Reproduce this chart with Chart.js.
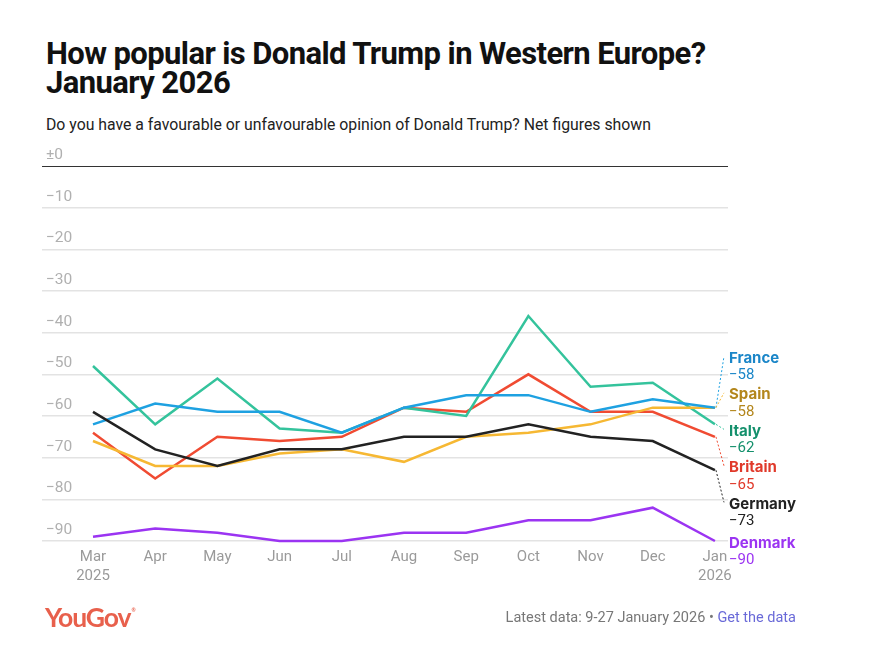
<!DOCTYPE html>
<html>
<head>
<meta charset="utf-8">
<script src="https://cdn.jsdelivr.net/npm/chart.js@4.4.1/dist/chart.umd.min.js"></script>
<style>
    body { margin: 0; background: #ffffff; }
    #wrap { position: relative; width: 896px; height: 653px; overflow: hidden; font-family: Roboto, sans-serif; }
    #title { position: absolute; left: 46px; top: 39px; font-weight: 700; font-size: 31px; line-height: 29px; color: #111111; letter-spacing: -0.6px; }
    #subtitle { position: absolute; left: 46px; top: 115px; font-size: 15.8px; color: #222222; }
    #chart { position: absolute; left: 0; top: 0; }
    #logo { position: absolute; left: 45px; top: 601px; font-family: Lato, sans-serif; font-weight: 700; font-size: 26.5px; color: #e8604c; letter-spacing: -1.1px; }
    #logo sup { font-size: 5px; vertical-align: 15px; margin-left: 1px; }
    #source { position: absolute; right: 100px; top: 609px; font-size: 14.5px; color: #777777; }
    #source span { color: #6a6ad8; }
</style>
</head>
<body>
<div id="wrap">
    <div id="title">How popular is Donald Trump in Western Europe?<br>January 2026</div>
    <div id="subtitle">Do you have a favourable or unfavourable opinion of Donald Trump? Net figures shown</div>
    <canvas id="chart" width="896" height="653"></canvas>
    <div id="logo">YouGov<sup>&reg;</sup></div>
    <div id="source">Latest data: 9-27 January 2026 &bull; <span>Get the data</span></div>
</div>
<script>
var months = [['Mar', '2025'], 'Apr', 'May', 'Jun', 'Jul', 'Aug', 'Sep', 'Oct', 'Nov', 'Dec', ['Jan', '2026']];
var yTicks = [0, -10, -20, -30, -40, -50, -60, -70, -80, -90];

var france  = [-62, -57, -59, -59, -64, -58, -55, -55, -59, -56, -58];
var spain   = [-66, -72, -72, -69, -68, -71, -65, -64, -62, -58, -58];
var italy   = [-48, -62, -51, -63, -64, -58, -60, -36, -53, -52, -62];
var britain = [-64, -75, -65, -66, -65, -58, -59, -50, -59, -59, -65];
var germany = [-59, -68, -72, -68, -68, -65, -65, -62, -65, -66, -73];
var denmark = [-89, -87, -88, -90, -90, -88, -88, -85, -85, -82, -90];

var countries = ['France', 'Spain', 'Italy', 'Britain', 'Germany', 'Denmark'];
var seriesValues = [france, spain, italy, britain, germany, denmark];
var lineColors  = ['#1ea1e1', '#f6b833', '#34c39c', '#f04b32', '#222222', '#9b34f2'];
var labelColors = ['#1b86c8', '#b3861c', '#14906c', '#e0392a', '#222222', '#9b34f2'];

function minus(v) {
    return v === 0 ? '\u00b10' : (v < 0 ? '\u2212' + Math.abs(v) : String(v));
}

function toPoints(values) {
    return values.map(function(v, i) { return { x: i, y: v }; });
}

// end labels with leader lines, spread so they do not overlap
var endLabels = {
    id: 'endLabels',
    afterDatasetsDraw: function(chart) {
        var ctx = chart.ctx;
        var xs = chart.scales.x, ys = chart.scales.y;
        var last = months.length - 1;
        var gap = 36.5;
        var items = seriesValues.map(function(vals, i) {
            return { i: i, v: vals[last], target: ys.getPixelForValue(vals[last]) };
        });
        items.sort(function(a, b) { return a.target - b.target; });

        var clusters = items.map(function(it) { return { items: [it], pos: it.target }; });
        var merged = true;
        while (merged) {
            merged = false;
            for (var k = 0; k < clusters.length - 1; k++) {
                var a = clusters[k], b = clusters[k + 1];
                var aEnd = a.pos + (a.items.length - 1) * gap / 2;
                var bStart = b.pos - (b.items.length - 1) * gap / 2;
                if (bStart - aEnd < gap) {
                    var all = a.items.concat(b.items);
                    var mean = all.reduce(function(s, it) { return s + it.target; }, 0) / all.length;
                    clusters.splice(k, 2, { items: all, pos: mean });
                    merged = true;
                    break;
                }
            }
        }

        var xEnd = xs.getPixelForValue(last);
        var xText = chart.chartArea.right + 1;
        ctx.save();
        clusters.forEach(function(c) {
            var start = c.pos - (c.items.length - 1) * gap / 2 + 2;
            c.items.forEach(function(it, n) {
                var y = start + n * gap;
                if (Math.abs(y - it.target) > 4) {
                    ctx.beginPath();
                    ctx.setLineDash([2, 2]);
                    ctx.lineWidth = 1;
                    ctx.strokeStyle = lineColors[it.i];
                    ctx.moveTo(xEnd + 1, it.target);
                    ctx.lineTo(xText - 5, y - 2);
                    ctx.stroke();
                }
                ctx.setLineDash([]);
                ctx.textAlign = 'left';
                ctx.textBaseline = 'middle';
                ctx.fillStyle = labelColors[it.i];
                ctx.font = '700 15px Inter, sans-serif';
                ctx.fillText(countries[it.i], xText, y);
                ctx.font = '400 15px Roboto, sans-serif';
                ctx.fillText(minus(it.v), xText, y + 17);
            });
        });
        ctx.restore();
    }
};

var datasets = seriesValues.map(function(vals, i) {
    return {
        label: countries[i],
        data: toPoints(vals),
        borderColor: lineColors[i],
        borderWidth: 2.5,
        pointRadius: 0,
        tension: 0,
        clip: false,
        order: i === 4 ? 0 : 1
    };
});

Chart.defaults.font.family = 'Roboto, sans-serif';

new Chart(document.getElementById('chart').getContext('2d'), {
    type: 'line',
    data: { datasets: datasets },
    plugins: [endLabels],
    options: {
        responsive: false,
        animation: false,
        events: [],
        layout: { padding: { left: 42, right: 168, top: 166, bottom: 72 } },
        plugins: { legend: { display: false }, tooltip: { enabled: false } },
        scales: {
            x: {
                type: 'linear',
                min: -0.82,
                max: 10.21,
                afterFit: function(s) { s.height = 40; },
                afterBuildTicks: function(s) {
                    s.ticks = months.map(function(m, i) { return { value: i }; });
                },
                grid: { display: false, drawTicks: false },
                border: { display: false },
                ticks: {
                    autoSkip: false,
                    maxRotation: 0,
                    padding: 6,
                    color: '#9a9a9a',
                    font: { size: 15, lineHeight: 1.3 },
                    callback: function(v) { return months[v]; }
                }
            },
            y: {
                min: -90,
                max: 0,
                afterFit: function(s) { s.width = 0; },
                afterBuildTicks: function(s) {
                    s.ticks = yTicks.map(function(v) { return { value: v }; });
                },
                grid: {
                    drawTicks: false,
                    lineWidth: function(c) { return c.tick && c.tick.value === 0 ? 1 : 1.5; },
                    color: function(c) { return c.tick && c.tick.value === 0 ? '#333333' : '#e3e3e3'; }
                },
                border: { display: false },
                ticks: {
                    mirror: true,
                    padding: 4,
                    labelOffset: -11,
                    color: '#b0b0b0',
                    font: { size: 15.5 },
                    callback: function(v) { return minus(v); }
                }
            }
        }
    }
});
</script>
</body>
</html>
